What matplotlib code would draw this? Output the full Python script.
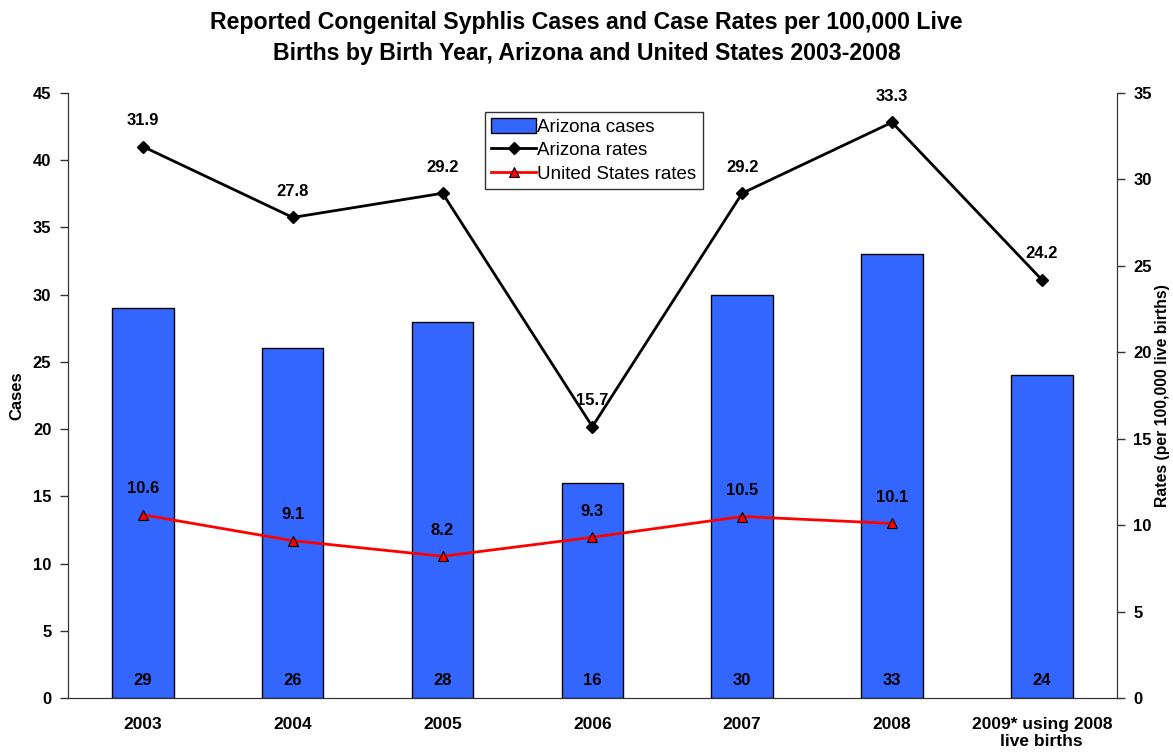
import numpy as np
import matplotlib.pyplot as plt

plt.rcParams['font.family'] = ['Liberation Sans', 'DejaVu Sans']

years = ["2003", "2004", "2005", "2006", "2007", "2008", "2009* using 2008\nlive births"]
az_cases = [29, 26, 28, 16, 30, 33, 24]
az_rates = [31.9, 27.8, 29.2, 15.7, 29.2, 33.3, 24.2]
us_rates = [10.6, 9.1, 8.2, 9.3, 10.5, 10.1]

x = np.arange(len(years))

fig = plt.figure(figsize=(11.73, 7.56), dpi=100)
ax = fig.add_axes([0.058, 0.0767, 0.894, 0.8003])
ax2 = ax.twinx()

bars = ax.bar(x, az_cases, width=0.41, color="#3366FF", edgecolor="black", linewidth=1,
              label="Arizona cases", zorder=2)
for xi, v in zip(x, az_cases):
    ax.text(xi, 1.3, str(v), ha="center", va="center", fontsize=12, fontweight="bold")

ax.set_xlim(-0.5, len(years) - 0.5)
ax.set_ylim(0, 45)
ax.set_yticks(range(0, 46, 5))
ax.set_xticks(x)
ax.set_xticklabels(years, fontsize=12.5, fontweight="bold", linespacing=1.1)
ax.set_ylabel("Cases", fontsize=12, fontweight="bold", labelpad=6)
for t in ax.get_yticklabels():
    t.set_fontweight("bold")
    t.set_fontsize(12)

l1, = ax2.plot(x, az_rates, color="black", lw=2, marker="D", ms=6, label="Arizona rates", zorder=3)
l2, = ax2.plot(x[:len(us_rates)], us_rates, color="red", lw=2, marker="^", ms=7.5,
               mfc="red", mec="black", mew=0.8, label="United States rates", zorder=3)
for xi, v in zip(x, az_rates):
    ax2.text(xi, v + 1.5, f"{v:.1f}", ha="center", va="center", fontsize=12, fontweight="bold")
for xi, v in zip(x, us_rates):
    ax2.text(xi, v + 1.5, f"{v:.1f}", ha="center", va="center", fontsize=12, fontweight="bold")

ax2.set_ylim(0, 35)
ax2.set_yticks(range(0, 36, 5))
ax2.set_ylabel("Rates (per 100,000 live births)", fontsize=11.3, fontweight="bold", labelpad=2)
for t in ax2.get_yticklabels():
    t.set_fontweight("bold")
    t.set_fontsize(12)

for a in (ax, ax2):
    a.spines["top"].set_visible(False)
    for s in ("left", "right", "bottom"):
        a.spines[s].set_color("#333333")
    a.tick_params(direction="out", length=6, width=1, color="#333333", pad=6)
ax.tick_params(axis="x", length=0, pad=14)

leg = ax2.legend([bars, l1, l2], ["Arizona cases", "Arizona rates", "United States rates"],
                 loc="upper left", bbox_to_anchor=(0.3975, 0.969), fontsize=13.5,
                 frameon=True, fancybox=False, edgecolor="black", borderpad=0.35,
                 labelspacing=0.3, handlelength=2.4, handleheight=0.8, handletextpad=0.05,
                 borderaxespad=0)
leg.get_frame().set_linewidth(1)

fig.suptitle("Reported Congenital Syphlis Cases and Case Rates per 100,000 Live\n"
             "Births by Birth Year, Arizona and United States 2003-2008",
             fontsize=16.7, fontweight="bold", y=0.985, linespacing=1.45)

fig.savefig("out.png", dpi=100)
